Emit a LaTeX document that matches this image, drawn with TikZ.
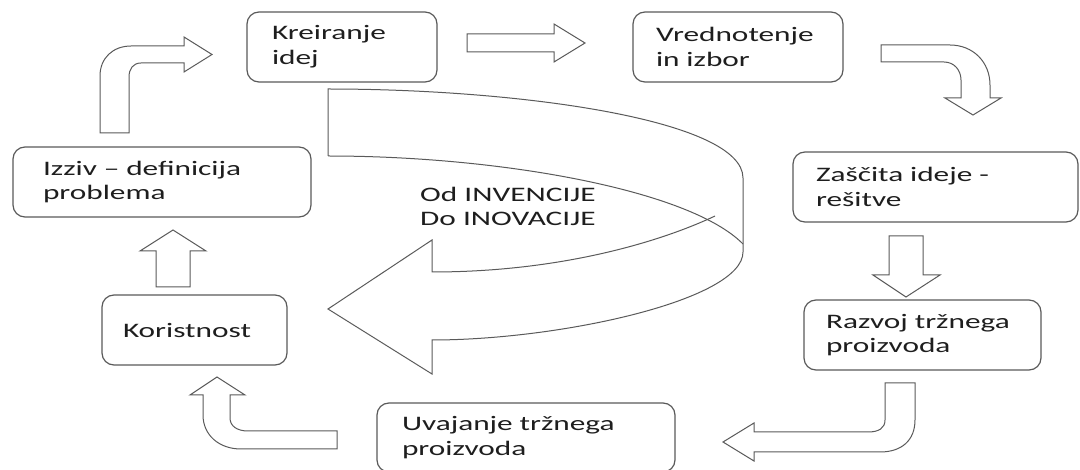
\documentclass[tikz,border=0pt]{standalone}
\usepackage{fontspec}
\setmainfont[FakeStretch=1.52]{Carlito}
\definecolor{linegray}{HTML}{5A5A5A}
\definecolor{textgray}{HTML}{1E1E1E}
\tikzset{
  box/.style={draw=linegray, line width=1.2pt, rounded corners=12pt, align=left,
    inner ysep=0pt, minimum height=70pt, text=textgray,
    font=\fontsize{20.6}{24.8}\selectfont},
  blockarrow/.style={draw=linegray, line width=1pt, fill=white, line join=miter},
  ribbon/.style={draw=linegray, line width=1pt},
  label/.style={text=textgray, align=left, inner sep=0pt, font=\fontsize{20.6}{24}\selectfont}
}
\begin{document}
\begin{tikzpicture}[x=1pt,y=-1pt]
\useasboundingbox (0,0) rectangle (1080,470);
\fill[white] (0,0) rectangle (1080,470);

% boxes
\node[box, minimum width=190pt, text width=140pt, inner xsep=25pt] (kre) at (342,47) {Kreiranje\\idej};
\node[box, minimum width=210pt, text width=164pt, inner xsep=23pt] (vre) at (738,47) {Vrednotenje\\in izbor};
\node[box, minimum width=285pt, text width=239pt, inner xsep=23pt] (zas) at (935.5,187) {Zaščita ideje -\\rešitve};
\node[box, minimum width=237pt, text width=193pt, inner xsep=22pt] (raz) at (922.5,335) {Razvoj tržnega\\proizvoda};
\node[box, minimum width=298pt, minimum height=69pt, text width=248pt, inner xsep=25pt] (uva) at (526,437.5) {Uvajanje tržnega\\proizvoda};
\node[box, minimum width=185pt, text width=143pt, inner xsep=21pt] (kor) at (194.5,330) {Koristnost};
\node[box, minimum width=298pt, text width=238pt, inner xsep=30pt] (izz) at (162,182) {Izziv -- definicija\\problema};

% izz -> kre (up then right)
\draw[blockarrow] (100,133) -- (100,76) .. controls (100,58) and (113,46) .. (131,46)
  -- (184,46) -- (184,37) -- (212,54.5) -- (184,72) -- (184,63) -- (141,63)
  .. controls (133,63) and (129,69) .. (129,77) -- (129,133) -- cycle;

% kre -> vre (right)
\draw[blockarrow] (467,34) -- (554,34) -- (554,24) -- (585,43) -- (554,62) -- (554,52) -- (467,52) -- cycle;

% vre -> zas (right then down)
\draw[blockarrow] (881,45) -- (950,45) .. controls (973,45) and (990,62) .. (990,85)
  -- (990,98) -- (1001,98) -- (973,115) -- (945,98) -- (961,98) -- (961,80)
  .. controls (961,70) and (954,62) .. (944,62) -- (881,62) -- cycle;

% zas -> raz (down)
\draw[blockarrow] (889,236) -- (923,236) -- (923,275) -- (940,275) -- (906,297) -- (873,275) -- (889,275) -- cycle;

% raz -> uva (down then left)
\draw[blockarrow] (885,383) -- (915,383) -- (915,420) .. controls (915,440) and (902,452) .. (880,452)
  -- (754,452) -- (754,461) -- (723,442) -- (754,423) -- (754,432) -- (868,432)
  .. controls (879,432) and (885,428) .. (885,420) -- cycle;

% uva -> kor (left then up)
\draw[blockarrow] (337,431) -- (248,431) .. controls (237,431) and (230,426) .. (230,418)
  -- (230,395) -- (245,395) -- (217,377) -- (190,395) -- (203,395) -- (203,415)
  .. controls (203,435) and (219,449) .. (241,449) -- (337,449) -- cycle;

% kor -> izz (up)
\draw[blockarrow] (156,287) -- (156,251) -- (140,251) -- (173,230) -- (206,251) -- (190,251) -- (190,287) -- cycle;

% big U-turn ribbon arrow
\coordinate (r1) at (328,89);
\coordinate (r2) at (743,178);
\coordinate (r3) at (743,252);
\coordinate (r4) at (432,340);
\coordinate (r5) at (432,374);
\coordinate (r6) at (328,309);
\coordinate (r7) at (432,240);
\coordinate (r8) at (432,272);
\coordinate (r9) at (715,216);
\coordinate (r10) at (328,156);
\coordinate (r11) at (743,244);
\draw[ribbon] (r10) -- (r1) .. controls (520,89) and (743,120) .. (r2) -- (r3)
  .. controls (743,300) and (560,340) .. (r4) -- (r5) -- (r6) -- (r7) -- (r8)
  .. controls (560,272) and (660,242) .. (r9);
\draw[ribbon] (r10) .. controls (500,156) and (690,190) .. (r11);

\node[label, anchor=north west] (txt) at (420,187) {Od INVENCIJE\\Do INOVACIJE};
\end{tikzpicture}
\end{document}
